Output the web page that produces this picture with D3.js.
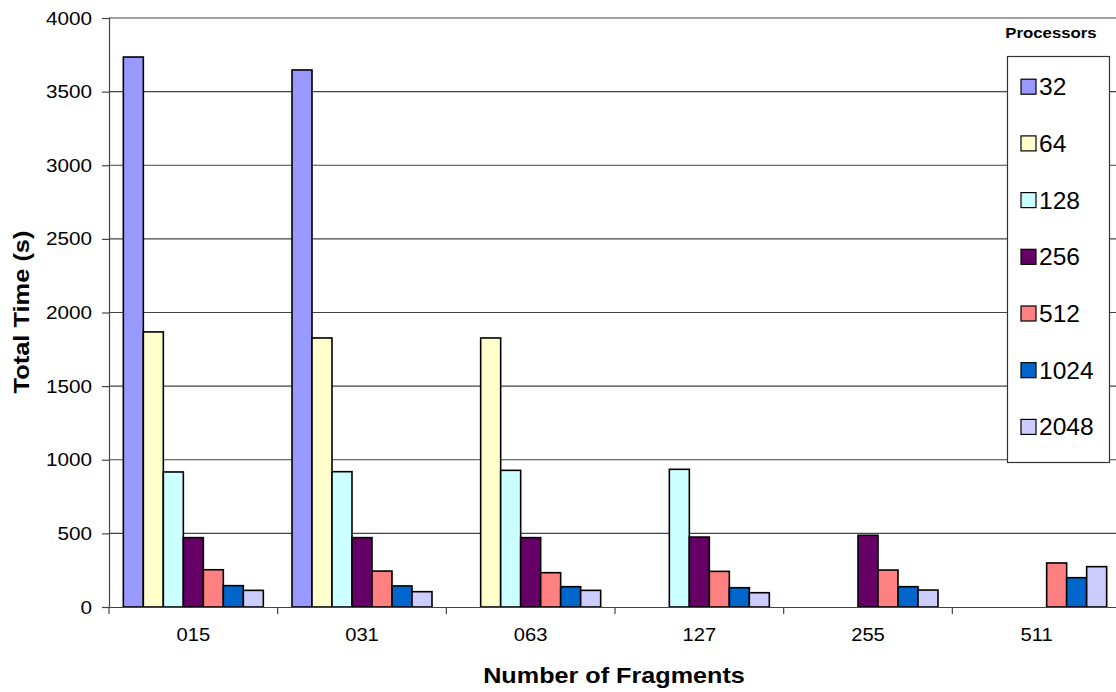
<!DOCTYPE html>
<html>
<head>
<meta charset="utf-8">
<script src="https://cdn.jsdelivr.net/npm/d3@7"></script>
<style>
  html, body { margin: 0; padding: 0; background: #fff; }
  svg { display: block; font-family: "Liberation Sans", Arial, sans-serif; }
</style>
</head>
<body>
<svg id="chart" width="1116" height="692"></svg>
<script>
// Number of fragments (x categories)
const fragments = ["015", "031", "063", "127", "255", "511"];
// Processor counts (series)
const processors = ["32", "64", "128", "256", "512", "1024", "2048"];
// Total time in seconds, one array per processor count (null = not run)
const time32   = [3735, 3647, null, null, null, null];
const time64   = [1868, 1827, 1827, null, null, null];
const time128  = [917, 919, 928, 935, null, null];
const time256  = [471, 471, 471, 475, 487, null];
const time512  = [253, 244, 233, 242, 251, 299];
const time1024 = [145, 143, 138, 131, 138, 199];
const time2048 = [113, 104, 113, 97, 115, 274];
const yTicks = [0, 500, 1000, 1500, 2000, 2500, 3000, 3500, 4000];
const colors = ["#9999ff", "#ffffcc", "#ccffff", "#660066", "#ff8080", "#0066cc", "#ccccff"];

const seriesValues = [time32, time64, time128, time256, time512, time1024, time2048];

// Text in this chart is set slightly wide
const WIDE = 1.09;

const svg = d3.select("#chart");
const plot = { left: 109, right: 1121, top: 18, bottom: 607 };

const y = d3.scaleLinear().domain([0, 4000]).range([plot.bottom, plot.top]);
const x0 = d3.scaleBand().domain(fragments).range([plot.left, plot.right]).padding(0);
const bw = x0.bandwidth();
const gap = bw * 0.085;
const x1 = d3.scaleBand().domain(processors).range([gap, bw - gap]).padding(0);

// Horizontal grid lines
svg.append("g")
  .selectAll("line")
  .data(yTicks.filter(d => d > 0))
  .join("line")
  .attr("x1", plot.left).attr("x2", plot.right)
  .attr("y1", d => y(d)).attr("y2", d => y(d))
  .attr("stroke", "#444").attr("stroke-width", 1.2);

// Y axis
const yAxis = svg.append("g")
  .attr("transform", `translate(${plot.left},0)`)
  .call(d3.axisLeft(y).tickValues(yTicks).tickSize(7).tickPadding(10).tickFormat(d3.format("d")));
yAxis.select(".domain").attr("stroke", "#444").attr("stroke-width", 1.2);
yAxis.selectAll(".tick line").attr("stroke", "#444").attr("stroke-width", 1.2);
yAxis.selectAll("text")
  .attr("x", 0)
  .attr("transform", `translate(-17,0) scale(${WIDE},1)`)
  .attr("font-size", 19).attr("fill", "#000")
  .attr("font-family", "Liberation Sans, Arial, sans-serif");

// Bars
const groups = svg.append("g")
  .selectAll("g")
  .data(fragments)
  .join("g")
  .attr("transform", d => `translate(${x0(d)},0)`);

groups.selectAll("rect")
  .data((f, i) => processors.map((p, j) => ({ p, j, v: seriesValues[j][i] })).filter(d => d.v != null))
  .join("rect")
  .attr("x", d => x1(d.p))
  .attr("width", x1.bandwidth())
  .attr("y", d => y(d.v))
  .attr("height", d => plot.bottom - y(d.v))
  .attr("fill", d => colors[d.j])
  .attr("stroke", "#000")
  .attr("stroke-width", 1.6);

// X axis
const xAxis = svg.append("g")
  .attr("transform", `translate(0,${plot.bottom})`)
  .call(d3.axisBottom(x0).tickSize(0).tickPadding(21));
xAxis.select(".domain").attr("stroke", "#444").attr("stroke-width", 1.2);
xAxis.selectAll("text")
  .attr("transform", `scale(${WIDE},1)`)
  .attr("font-size", 18.5).attr("fill", "#000")
  .attr("font-family", "Liberation Sans, Arial, sans-serif");
// Category boundary ticks
xAxis.append("g")
  .selectAll("line")
  .data(fragments)
  .join("line")
  .attr("x1", d => x0(d)).attr("x2", d => x0(d))
  .attr("y1", 0).attr("y2", 7)
  .attr("stroke", "#444").attr("stroke-width", 1.2);

// Axis titles
svg.append("text")
  .attr("transform", `translate(614,683) scale(1.12,1)`)
  .attr("text-anchor", "middle")
  .attr("font-size", 22.5).attr("font-weight", "bold")
  .text("Number of Fragments");

svg.append("text")
  .attr("transform", "translate(29,312) rotate(-90) scale(1.13,1)")
  .attr("text-anchor", "middle")
  .attr("font-size", 22.5).attr("font-weight", "bold")
  .text("Total Time (s)");

// Legend
const legend = svg.append("g");
legend.append("text")
  .attr("transform", `translate(1051,37.5) scale(1.12,1)`)
  .attr("text-anchor", "middle")
  .attr("font-size", 15).attr("font-weight", "bold")
  .text("Processors");
legend.append("rect")
  .attr("x", 1007.5).attr("y", 56.5)
  .attr("width", 102).attr("height", 406)
  .attr("fill", "#fff").attr("stroke", "#333").attr("stroke-width", 1.2);
const items = legend.selectAll("g.item")
  .data(processors)
  .join("g")
  .attr("class", "item")
  .attr("transform", (d, i) => `translate(0,${86.7 + i * 56.7})`);
items.append("rect")
  .attr("x", 1021).attr("y", -7.5)
  .attr("width", 15).attr("height", 15)
  .attr("fill", (d, i) => colors[i])
  .attr("stroke", "#000").attr("stroke-width", 1.2);
items.append("text")
  .attr("transform", `translate(1039,8.5) scale(1.07,1)`)
  .attr("font-size", 23)
  .text(d => d);
</script>
</body>
</html>
